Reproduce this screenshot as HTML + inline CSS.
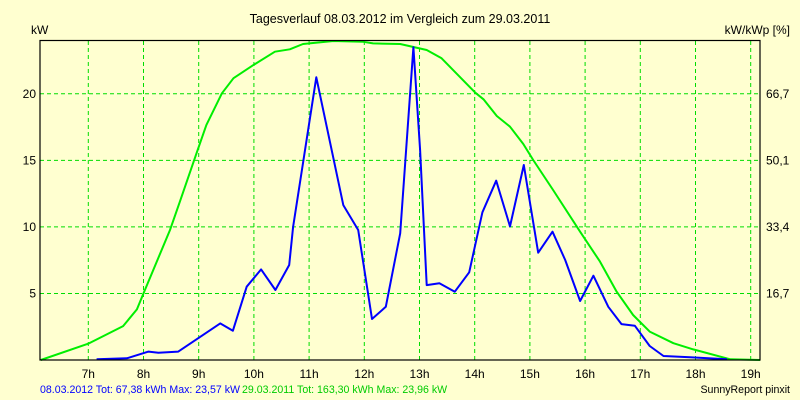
<!DOCTYPE html>
<html><head><meta charset="utf-8"><style>
body{margin:0;background:#ffffd0;}
svg{display:block;font-family:"Liberation Sans",sans-serif;}
</style></head><body>
<svg id="chart" width="800" height="400">
<rect x="0" y="0" width="800" height="400" fill="#ffffd0"/>
<text x="400" y="23" text-anchor="middle" font-size="12.5" fill="#000">Tagesverlauf 08.03.2012 im Vergleich zum 29.03.2011</text>
<text x="31" y="34" font-size="12" fill="#000">kW</text>
<text x="790" y="34" text-anchor="end" font-size="12" fill="#000">kW/kWp [%]</text>
<g id="grid"></g>
<g id="series"></g>
<rect x="40" y="40.5" width="720" height="319.5" fill="none" stroke="#000" stroke-width="1.2"/>
<g id="labels"></g>
<text x="40" y="393" font-size="10.6"><tspan fill="#0000ff">08.03.2012 Tot: 67,38 kWh Max: 23,57 kW</tspan><tspan fill="#00cc00" dx="2">29.03.2011 Tot: 163,30 kWh Max: 23,96 kW</tspan></text>
<text x="790" y="393" text-anchor="end" font-size="10.6" fill="#000">SunnyReport pinxit</text>
</svg>
<script>
const hourTicks=[7,8,9,10,11,12,13,14,15,16,17,18,19];
const kwTicks=[5,10,15,20];
const pctTicks=["16,7","33,4","50,1","66,7"];
const blueHours=[7.15,7.70,8.09,8.27,8.63,9.39,9.62,9.87,10.13,10.39,10.64,10.71,11.13,11.62,11.89,12.14,12.39,12.65,12.89,13.01,13.13,13.36,13.64,13.90,14.14,14.39,14.64,14.89,15.15,15.41,15.64,15.91,16.15,16.42,16.66,16.90,17.17,17.42,17.90,18.57];
const blueKW=[0.05,0.13,0.63,0.55,0.63,2.75,2.20,5.51,6.81,5.26,7.14,10.0,21.24,11.64,9.77,3.08,4.0,9.52,23.5,15.78,5.63,5.76,5.13,6.59,11.1,13.47,10.04,14.65,8.06,9.64,7.51,4.43,6.33,4.0,2.70,2.58,1.05,0.30,0.20,0.05];
const greenHours=[6.14,7.01,7.63,7.88,8.00,8.48,8.66,8.96,9.14,9.42,9.63,9.99,10.38,10.65,10.89,11.44,11.98,12.16,12.65,13.13,13.40,14.01,14.16,14.40,14.64,14.88,15.06,15.42,15.91,16.27,16.57,16.87,17.17,17.60,17.96,18.63,19.17];
const greenKW=[0,1.25,2.55,3.80,5.0,9.77,11.9,15.53,17.66,20.04,21.17,22.16,23.16,23.34,23.74,23.97,23.91,23.79,23.74,23.29,22.67,20.08,19.59,18.33,17.53,16.23,15.03,12.77,9.64,7.39,5.14,3.38,2.13,1.26,0.80,0.05,0];
const NS="http://www.w3.org/2000/svg";
function xs(h){return 88.3+(h-7)*55.2;}
function ys(k){return 360-k*13.31;}
function mk(t,a,p){const e=document.createElementNS(NS,t);for(const k in a)e.setAttribute(k,a[k]);p.appendChild(e);return e;}
const grid=document.getElementById('grid'),labels=document.getElementById('labels'),series=document.getElementById('series');
hourTicks.forEach(h=>{
  const l=mk('line',{x1:xs(h),x2:xs(h),y1:41,y2:360,stroke:'#00dd00','stroke-dasharray':'4,3'},grid);
  
  
  const t=mk('text',{x:xs(h),y:378,'text-anchor':'middle','font-size':12},labels);
  t.textContent=h+'h';
  
  
});
kwTicks.forEach((k,i)=>{
  const l=mk('line',{x1:40,x2:760,y1:ys(k),y2:ys(k),stroke:'#00dd00','stroke-dasharray':'4,3'},grid);
  
  
  const t=mk('text',{x:36,y:ys(k)+4,'text-anchor':'end','font-size':12},labels);
  t.textContent=k;
  
  
  const r=mk('text',{x:766,y:ys(k)+4,'font-size':12},labels);
  r.textContent=pctTicks[i];
  
  
});
function line(hs,ks,c,name){
  const p=mk('polyline',{points:hs.map((h,i)=>xs(h).toFixed(1)+','+ys(ks[i]).toFixed(1)).join(' '),fill:'none',stroke:c,'stroke-width':2,'stroke-linejoin':'round'},series);
  
  
}
line(greenHours,greenKW,'#00ee00','line-29-03-2011');
line(blueHours,blueKW,'#0000ff','line-08-03-2012');
</script>
</body></html>
